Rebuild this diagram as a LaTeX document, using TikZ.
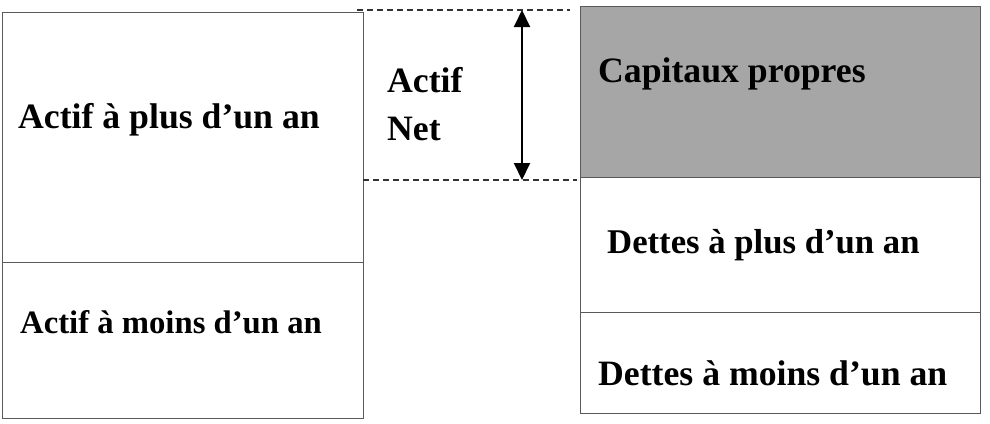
\documentclass[tikz,border=0pt]{standalone}
\usepackage{fontspec}
\setmainfont{Liberation Serif}
\usetikzlibrary{arrows.meta}
\definecolor{boxline}{HTML}{5A5A5A}
\definecolor{capfill}{HTML}{A6A6A6}
\begin{document}
\begin{tikzpicture}[x=1pt,y=-1pt,
  box/.style={draw=boxline,line width=1.2pt,inner sep=0pt,anchor=north west},
  lbl/.style={anchor=base west,inner sep=0pt,font=\bfseries\fontsize{35.7}{40}\selectfont},
  dashline/.style={dashed,dash pattern=on 6pt off 4pt,line width=1.3pt,draw=black!80},
  netarrow/.style={{Triangle[length=17pt,width=16pt]}-{Triangle[length=17pt,width=16pt]},line width=2pt}]
\useasboundingbox (0,0) rectangle (990,423);
% left side
\node[box,minimum width=361pt,minimum height=250pt] (actplus) at (2,12) {};
\node[box,minimum width=361pt,minimum height=156pt] (actmoins) at (2,262) {};
% right side
\node[box,fill=capfill,minimum width=400pt,minimum height=171pt] (cap) at (580,6) {};
\node[box,minimum width=400pt,minimum height=135pt] (detplus) at (580,177) {};
\node[box,minimum width=400pt,minimum height=101pt] (detmoins) at (580,312) {};
% texts
\node[lbl] (t1) at (18,128) {Actif à plus d’un an};
\node[lbl,font=\bfseries\fontsize{32.7}{38}\selectfont] (t2) at (20,333) {Actif à moins d’un an};
\node[lbl] (t3) at (598,82) {Capitaux propres};
\node[lbl,font=\bfseries\fontsize{34.7}{40}\selectfont] (t4) at (607,253) {Dettes à plus d’un an};
\node[lbl] (t5) at (598,385) {Dettes à moins d’un an};
\node[lbl] (an1) at (387,92) {Actif};
\node[lbl] (an2) at (387,140) {Net};
% dashed guides
\coordinate (dt1) at (357,10);
\coordinate (dt2) at (570,10);
\coordinate (db1) at (363,180);
\coordinate (db2) at (577,180);
\draw[dashline] (dt1) -- (dt2);
\draw[dashline] (db1) -- (db2);
% arrow
\coordinate (ar1) at (522,10);
\coordinate (ar2) at (522,180);
\draw[netarrow] (ar1) -- (ar2);
\end{tikzpicture}
\end{document}
